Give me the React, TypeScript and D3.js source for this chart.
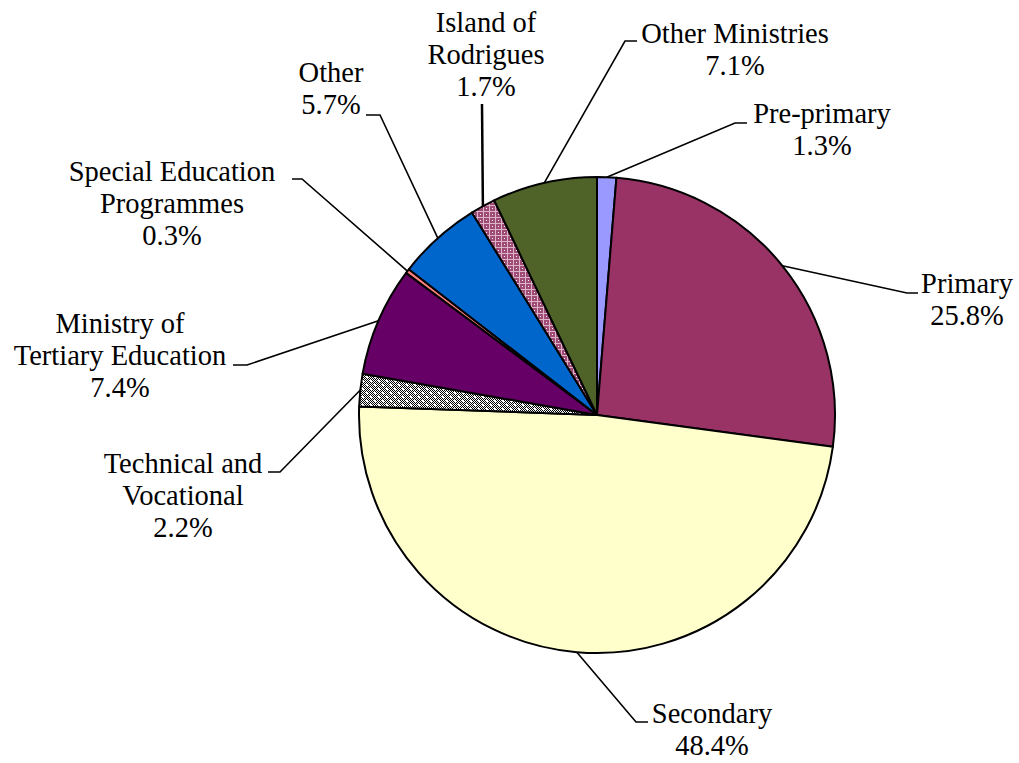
import * as d3 from 'd3'

// slices, clockwise from 12 o'clock
const categories = [
  'Pre-primary',
  'Primary',
  'Secondary',
  'Technical and Vocational',
  'Ministry of Tertiary Education',
  'Special Education Programmes',
  'Other',
  'Island of Rodrigues',
  'Other Ministries',
]
const shares = [1.3, 25.8, 48.4, 2.2, 7.4, 0.3, 5.7, 1.7, 7.1]
const labelLines = [
  ['Pre-primary'],
  ['Primary'],
  ['Secondary'],
  ['Technical and', 'Vocational'],
  ['Ministry of', 'Tertiary Education'],
  ['Special Education', 'Programmes'],
  ['Other'],
  ['Island of', 'Rodrigues'],
  ['Other Ministries'],
]

const fills = [
  '#9999FF',
  '#993366',
  '#FFFFCC',
  'url(#patTech)',
  '#660066',
  '#FF8080',
  '#0066CC',
  'url(#patIsland)',
  '#4F6228',
]

// label layout: text centre x, first baseline, elbow of leader, end of short tick
const labelPos = [
  { x: 822, y: 123, elbow: [735, 123], tick: 747 },
  { x: 967, y: 293, elbow: [907, 293], tick: 918 },
  { x: 712, y: 723, elbow: [636, 722], tick: 648 },
  { x: 183, y: 473, elbow: [280, 472], tick: 268 },
  { x: 120, y: 333, elbow: [247, 365], tick: 233 },
  { x: 172, y: 181, elbow: [302, 179], tick: 292 },
  { x: 331, y: 82, elbow: [380, 115], tick: 366 },
  { x: 486, y: 32, elbow: [482, 104], tick: 482 },
  { x: 735, y: 43, elbow: [625, 41], tick: 637 },
]

const W = 1019
const H = 763
const cx = 597
const cy = 415
const R = 238
const lineGap = 32

const App = () => {
  const pie = d3
    .pie<number>()
    .sort(null)
    .value(d => d)
  const arcs = pie(shares)
  const arc = d3.arc<d3.PieArcDatum<number>>().innerRadius(0).outerRadius(R)

  const edgePoint = (a: d3.PieArcDatum<number>) => {
    const mid = (a.startAngle + a.endAngle) / 2
    return [cx + R * Math.sin(mid), cy - R * Math.cos(mid)]
  }

  return (
    <svg
      width={W}
      height={H}
      style={{ position: 'absolute', left: 0, top: 0, background: 'white' }}
    >
      <defs>
        <pattern id="patTech" width={8} height={8} patternUnits="userSpaceOnUse">
          <rect width={8} height={8} fill="#fff" />
          {d3.range(16).map(i => {
            const px = (i % 4) * 2
            const py = Math.floor(i / 4) * 2
            return (
              <g key={i}>
                <rect x={px} y={py} width={1} height={1} fill="#000" />
                <rect x={px + 1} y={py + 1} width={1} height={1} fill="#000" />
              </g>
            )
          })}
          <rect x={1} y={1} width={2} height={2} fill="#fff" />
          <rect x={5} y={5} width={2} height={2} fill="#fff" />
        </pattern>
        <pattern id="patIsland" width={6} height={6} patternUnits="userSpaceOnUse">
          <rect width={6} height={6} fill="#a04a76" />
          <rect x={0} y={0} width={6} height={1} fill="#dcb4c8" />
          <rect x={0} y={0} width={1} height={6} fill="#dcb4c8" />
          <rect x={3} y={3} width={1} height={1} fill="#ffffff" />
        </pattern>
      </defs>

      <g transform={`translate(${cx},${cy})`}>
        {arcs.map((a, i) => (
          <path
            key={categories[i]}
            d={arc(a) ?? ''}
            fill={fills[i]}
            stroke="#000"
            strokeWidth={2}
            strokeLinejoin="round"
          />
        ))}
      </g>

      {arcs.map((a, i) => {
        const p = labelPos[i]
        const [ex, ey] = edgePoint(a)
        const pts: [number, number][] = [
          [ex, ey],
          [p.elbow[0], p.elbow[1]],
          [p.tick, p.elbow[1]],
        ]
        const lines = [...labelLines[i], `${shares[i].toFixed(1)}%`]
        return (
          <g key={'lab' + i}>
            <path
              d={d3.line()(pts) ?? ''}
              fill="none"
              stroke="#000"
              strokeWidth={i === 7 ? 2.5 : 1.6}
            />
            {lines.map((t, j) => (
              <text
                key={j}
                x={p.x}
                y={p.y + j * lineGap}
                textAnchor="middle"
                fill="#000"
                style={{ fontFamily: '"Liberation Serif"', fontSize: '28.5px' }}
              >
                {t}
              </text>
            ))}
          </g>
        )
      })}
    </svg>
  )
}

export default App
